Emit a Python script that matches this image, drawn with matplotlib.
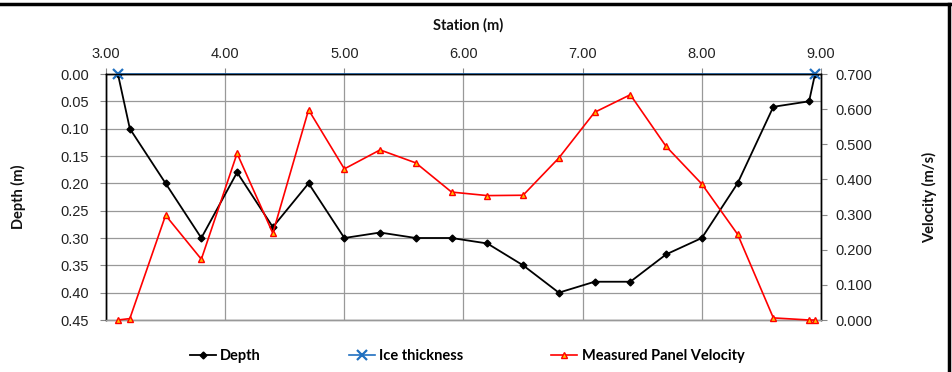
import numpy as np
import matplotlib
matplotlib.use('Agg')
from matplotlib import pyplot as plt
from matplotlib.lines import Line2D
from matplotlib.ticker import FormatStrFormatter

station = [3.1, 3.2, 3.5, 3.8, 4.1, 4.4, 4.7, 5.0, 5.3, 5.6, 5.9, 6.2, 6.5,
           6.8, 7.1, 7.4, 7.7, 8.0, 8.3, 8.6, 8.9, 8.95]
depth = [0.00, 0.10, 0.20, 0.30, 0.18, 0.28, 0.20, 0.30, 0.29, 0.30, 0.30, 0.31,
         0.35, 0.40, 0.38, 0.38, 0.33, 0.30, 0.20, 0.06, 0.05, 0.00]
velocity = [0.000, 0.004, 0.298, 0.173, 0.474, 0.247, 0.598, 0.430, 0.484, 0.447,
            0.364, 0.354, 0.355, 0.461, 0.591, 0.641, 0.494, 0.387, 0.244, 0.006,
            0.000, 0.000]
ice_station = [3.1, 8.95]
ice_thickness = [0.0, 0.0]

plt.rcParams['font.family'] = ['Liberation Sans', 'DejaVu Sans']
bold_font = 'Lato'

fig = plt.figure(figsize=(9.53, 3.72), dpi=100)
ax = fig.add_axes([106 / 953, 1 - 320 / 372, 715 / 953, 246 / 372])
ax2 = ax.twinx()

# depth on the left axis, inverted, station along the top
ax.plot(station, depth, color='black', marker='D', markersize=3.5, linewidth=1.3,
        label='Depth', zorder=3)
ax.plot(ice_station, ice_thickness, color='#2070C0', marker='x', markersize=7,
        markeredgewidth=1.6, linewidth=1.2, label='Ice thickness', zorder=4, clip_on=False)
ax2.plot(station, velocity, color='red', marker='^', markersize=5, markerfacecolor='#FFC000',
         markeredgecolor='red', linewidth=1.2, label='Measured Panel Velocity', zorder=3,
         clip_on=False)

ax.set_xlim(3, 9)
ax.set_ylim(0.45, 0)
ax2.set_ylim(0, 0.7)
ax.set_xticks(np.arange(3, 9.01, 1.0))
ax.set_yticks(np.arange(0, 0.451, 0.05))
ax2.set_yticks(np.arange(0, 0.701, 0.1))
ax.xaxis.set_major_formatter(FormatStrFormatter('%.2f'))
ax.yaxis.set_major_formatter(FormatStrFormatter('%.2f'))
ax2.yaxis.set_major_formatter(FormatStrFormatter('%.3f'))

ax.xaxis.tick_top()
ax.grid(True, color='#999999', linewidth=0.9)
ax.set_axisbelow(True)

for a in (ax, ax2):
    a.tick_params(labelsize=10.5, labelcolor='#222222', length=4, color='#888888', pad=8)
    for s in a.spines.values():
        s.set_color('black')
        s.set_linewidth(1.0)
    a.spines['bottom'].set_color('#999999')
ax.tick_params(axis='x', pad=5)
ax2.tick_params(axis='y', pad=6)

label_kw = dict(family=bold_font, fontweight='bold', fontsize=10.5, color='#111111')
fig.text(468 / 953, 1 - 25 / 372, 'Station (m)', ha='center', va='center', **label_kw)
fig.text(18 / 953, 1 - 197 / 372, 'Depth (m)', ha='center', va='center', rotation=90, **label_kw)
fig.text(930 / 953, 1 - 197 / 372, 'Velocity (m/s)', ha='center', va='center', rotation=90,
         **label_kw)

handles = [ax.get_lines()[0], ax.get_lines()[1], ax2.get_lines()[0]]
leg = fig.legend(handles=handles, labels=[h.get_label() for h in handles],
                 loc='center', bbox_to_anchor=(467 / 953, 1 - 356 / 372), ncol=3,
                 frameon=False, columnspacing=6.0, handlelength=1.8, handletextpad=0.3,
                 prop={'family': bold_font, 'weight': 'bold', 'size': 10.5})

# outer chart border
fig.add_artist(Line2D([0, 950 / 953], [1 - 3.5 / 372, 1 - 3.5 / 372], color='black', linewidth=2.5))
fig.add_artist(Line2D([949.5 / 953, 949.5 / 953], [0, 1 - 3.5 / 372], color='black', linewidth=2.5))

fig.savefig('out.png', dpi=100)
plt.close(fig)
